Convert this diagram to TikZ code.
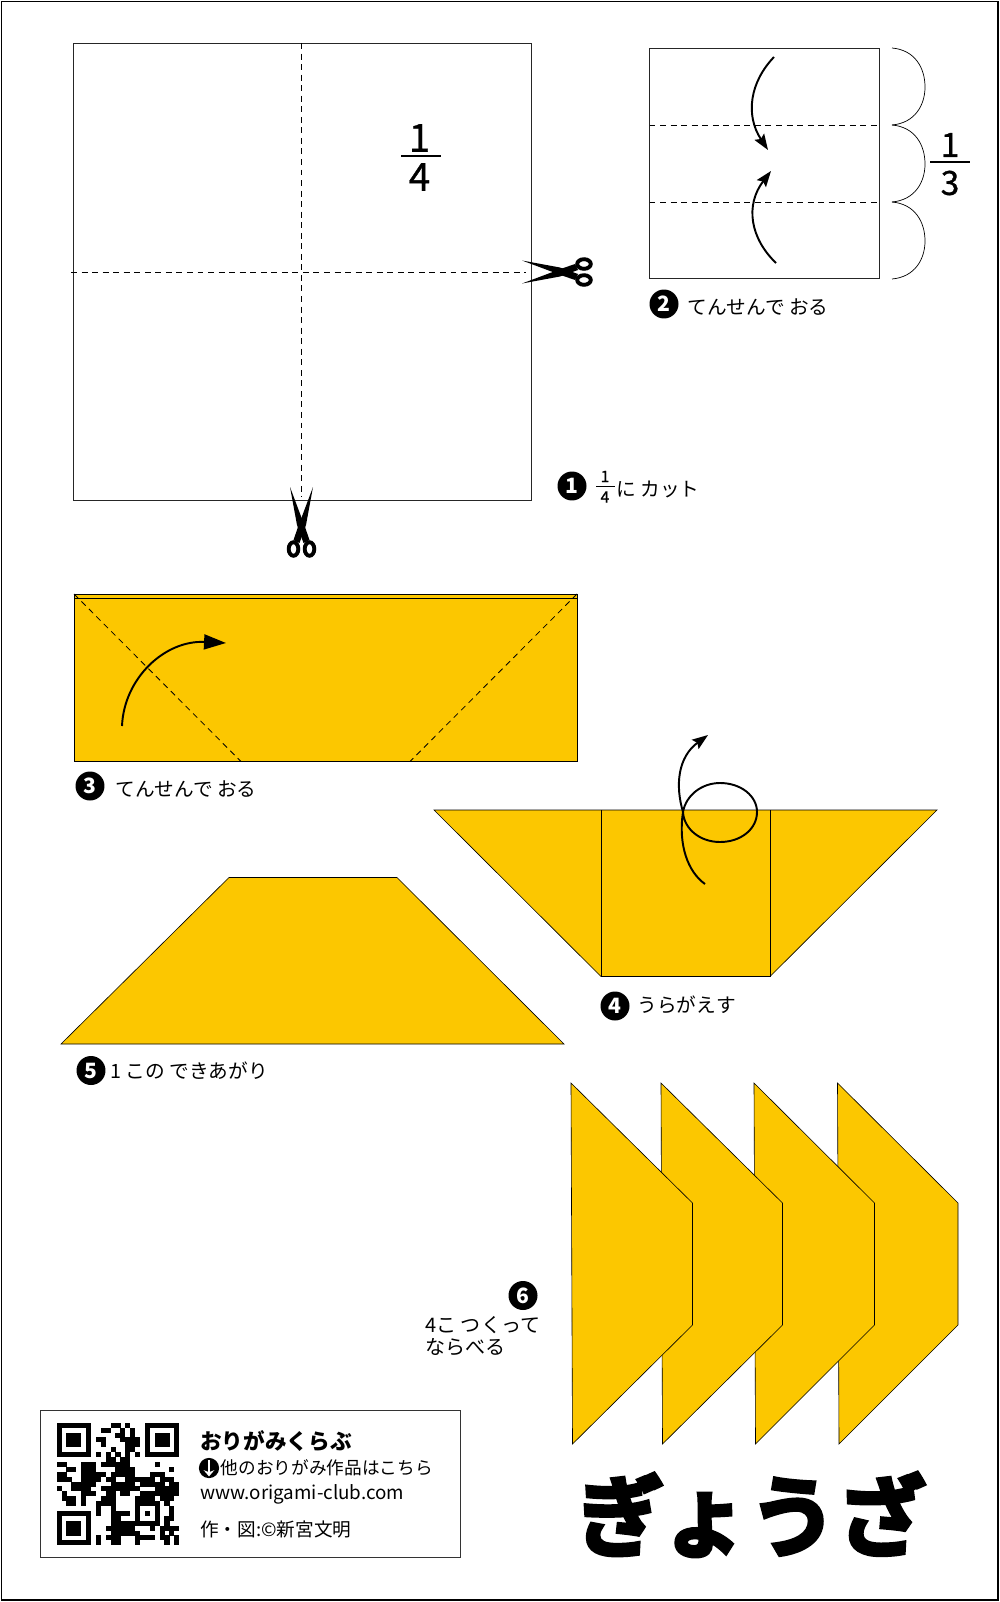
\documentclass[tikz,border=0pt]{standalone}
\usepackage{fontspec}
\setmainfont{Noto Sans CJK JP}
\newfontfamily\titlefont[FakeBold=4]{Noto Sans CJK JP Bold}
\newfontfamily\digitfont[FakeBold=.9]{Noto Sans CJK JP}
\usetikzlibrary{arrows.meta, positioning}
\definecolor{paper}{HTML}{FCC700}
\tikzset{
	fold/.style={line width=.35pt, draw=black, fill=paper},
	sheet/.style={line width=.45pt, draw=black!85},
	crease/.style={line width=.45pt, dash pattern=on 3.4pt off 2.6pt},
	foldarrow/.style={line width=1.1pt, arrows={-Stealth[length=9pt, width=6.5pt, inset=1.5pt]}},
	stepnum/.style={circle, fill=black, text=white, inner sep=0pt, minimum size=16.5pt, font=\bfseries\fontsize{12}{12}\selectfont},
	steptxt/.style={anchor=west, inner sep=0pt, font=\fontsize{11.2}{12.6}\selectfont, align=left},
	infotxt/.style={anchor=west, inner sep=0pt, font=\fontsize{10.05}{12}\selectfont},
	digit/.style={inner sep=0pt},
	scissors/.pic={
		\fill (-40,-11.5) -- (-2,-4.5) -- (16,2) -- (13,8) -- (0,3.5) -- cycle;
		\fill (-40,11.5) -- (-2,4.5) -- (16,-2) -- (13,-8) -- (0,-3.5) -- cycle;
		\draw[line width=2.2pt] (22,-8) ellipse (6.8 and 4.8);
		\draw[line width=2.2pt] (22,8) ellipse (6.8 and 4.8);
	}
}
\def\qrscan#1{\ifx#1\relax\else\if#11\fill (\qrx,\qry) rectangle ++(1.03,1.03);\fi\pgfmathtruncatemacro\qrx{\qrx+1}\expandafter\qrscan\fi}
\begin{document}
\begin{tikzpicture}[x=.02cm, y=-.02cm]
	\useasboundingbox (0,0) rectangle (1000,1602);
	\draw[line width=1.1pt] (1.5,1.5) rectangle (998,1600);

	% first square, cut in four
	\draw[sheet] (73.5,43) rectangle (531.5,500.5);
	\draw[crease] (71,272) -- (526,272);
	\draw[crease] (301.5,43) -- (301.5,497);
	\pic (cutr) at (562,272) {scissors};
	\pic[rotate=-90] (cutb) at (301.5,527) {scissors};
	\node[digit, font=\digitfont\fontsize{22}{22}\selectfont] (qa) at (419.5,138) {1};
	\node[digit, font=\digitfont\fontsize{22}{22}\selectfont] (qb) at (419.5,177) {4};
	\draw[line width=.8pt] (401,156) -- (441,156);
	\node[stepnum] (n1) at (572,486) {1};
	\node[digit, font=\digitfont\fontsize{9}{9}\selectfont] (sa) at (605,476.5) {1};
	\node[digit, font=\digitfont\fontsize{9}{9}\selectfont] (sb) at (605,497) {4};
	\draw[line width=.6pt] (596,486.5) -- (615,486.5);
	\node[steptxt] (t1) at (616,489) {に カット};

	% second square with thirds
	\draw[sheet] (649.5,48) rectangle (879.5,278);
	\draw[crease] (649.5,125.5) -- (879.5,125.5);
	\draw[crease] (649.5,202) -- (879.5,202);
	\draw[foldarrow] (774,57) .. controls (750,82) and (745,115) .. (768,150);
	\draw[foldarrow] (776,263) .. controls (750,238) and (745,205) .. (771,171);
	\foreach \ya in {48,125,202} {
		\draw[line width=.4pt, shift={(0,\ya)}] (892,0) .. controls (915,2) and (925,20) .. (925,39) .. controls (925,57) and (915,75) .. (892,77);
	}
	\node[digit, font=\digitfont\fontsize{19}{19}\selectfont] (ta) at (950,145) {1};
	\node[digit, font=\digitfont\fontsize{19}{19}\selectfont] (tb) at (950,183) {3};
	\draw[line width=.7pt] (930,162) -- (970,162);
	\node[stepnum] (n2) at (664,304) {2};
	\node[steptxt] (t2) at (687,307) {てんせんで おる};

	% strip with two corners
	\draw[fold] (74,594) rectangle (577,761.5);
	\draw[line width=.4pt] (74,598) -- (577,598);
	\draw[crease] (74,594) -- (241,761.5);
	\draw[crease] (577,594) -- (410,761.5);
	\draw[line width=1.1pt, arrows={-Triangle[length=12.5pt, width=8.5pt]}] (122,726) .. controls (124,678) and (165,640) .. (226,643);
	\node[stepnum] (n3) at (90,786) {3};
	\node[steptxt] (t3) at (115,789) {てんせんで おる};

	% corners folded, turn over
	\draw[fold] (434,810) -- (937,810) -- (770,976.5) -- (601,976.5) -- cycle;
	\draw[line width=.4pt] (601,810) -- (601,976.5);
	\draw[line width=.4pt] (770,810) -- (770,976.5);
	\draw[foldarrow] (705,884) .. controls (688,872) and (678,845) .. (683,812)
		.. controls (686,795) and (702,783) .. (720,783)
		.. controls (741,783) and (757,796) .. (757,812)
		.. controls (757,829) and (741,842) .. (720,842)
		.. controls (700,842) and (684,829) .. (683,812)
		.. controls (675,785) and (678,757) .. (708,735);
	\node[stepnum] (n4) at (615,1006) {4};
	\node[steptxt] (t4) at (637,1005) {うらがえす};

	% finished piece
	\draw[fold] (229,877.5) -- (397,877.5) -- (564,1044) -- (61,1044) -- cycle;
	\node[stepnum] (n5) at (91,1070.5) {5};
	\node[steptxt] (t5) at (110,1071) {1 この できあがり};

	% four pieces in a row
	\foreach \xa/\xb in {837.5/958, 754/874.5, 661/782.5, 571/692.5} {
		\draw[fold] (\xa,1083) -- (\xb,1203) -- (\xb,1325) -- (\xa+1.5,1444) -- cycle;
	}
	\node[stepnum] (n6) at (523,1295.5) {6};
	\node[steptxt, anchor=north west, font=\fontsize{11.4}{12.6}\selectfont] (t6) at (425,1316) {4こ つくって\\ならべる};

	% info box
	\draw[line width=.45pt, draw=black!80] (40,1410) rectangle (460.5,1557);
	\begin{scope}[shift={(56.7,1422.7)}, x=.098cm, y=-.098cm]
		\foreach \qrrow [count=\qry from 0] in {
			1111111000011010001111111,
			1000001001100101001000001,
			1011101000001101001011101,
			1011101011000111101011101,
			1011101001000011101011101,
			1000001000010011001000001,
			1111111010101010101111111,
			0000000000110110000000000,
			1100011101111110000010000,
			0011011100001111000000010,
			1100011111011111000111000,
			1110011110110011111101110,
			0001111100011111011111011,
			1001111001111111100011111,
			0100011100110110011111111,
			0111010001110000111101110,
			0011010011110000111110100,
			0000000010010000100010010,
			1111111010011110101010010,
			1000001000011000100010110,
			1011101000011111111110100,
			1011101000111111000101111,
			1011101000011111100001010,
			1000001010111000111101101,
			1111111010011000100000101} {
			\def\qrx{0}
			\expandafter\qrscan\qrrow\relax
		}
	\end{scope}
	\node[infotxt, font=\bfseries\fontsize{12.3}{12}\selectfont] (club) at (200,1441.5) {おりがみくらぶ};
	\node[circle, fill=black, inner sep=0pt, minimum size=11.5pt] (down) at (209,1468) {};
	\draw[white, line width=.9pt, shorten <=1.5pt, shorten >=1.2pt, arrows={-Stealth[length=3.5pt, width=6pt]}] (down.north) -- (down.south);
	\node[infotxt, right=0pt of down.east, xshift=.6pt] (more) {他のおりがみ作品はこちら};
	\node[infotxt, font=\fontsize{10.7}{12}\selectfont] (site) at (200,1494) {www.origami-club.com};
	\node[infotxt, font=\fontsize{10.6}{12}\selectfont] (credit) at (200,1529) {作・図:©新宮文明};

	\node[digit, font=\titlefont\fontsize{50.5}{50.5}\selectfont] (title) at (751,1514.5) {ぎょうざ};
\end{tikzpicture}
\end{document}
